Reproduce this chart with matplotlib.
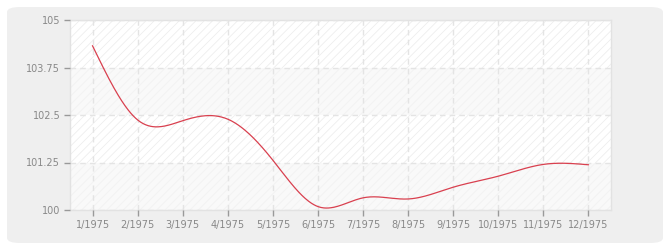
import numpy as np
import matplotlib
matplotlib.use('Agg')
import matplotlib.pyplot as plt
from matplotlib.patches import FancyBboxPatch

months = ['1/1975', '2/1975', '3/1975', '4/1975', '5/1975', '6/1975',
          '7/1975', '8/1975', '9/1975', '10/1975', '11/1975', '12/1975']
values = [104.32, 102.37, 102.35, 102.39, 101.31, 100.09,
          100.32, 100.29, 100.60, 100.89, 101.20, 101.19]
y_ticks = [100, 101.25, 102.5, 103.75, 105]
y_labels = ['100', '101.25', '102.5', '103.75', '105']


def natural_spline(x, y, xs):
    x = np.asarray(x, float)
    y = np.asarray(y, float)
    n = len(x)
    h = np.diff(x)
    A = np.zeros((n, n))
    r = np.zeros(n)
    A[0, 0] = 1
    A[-1, -1] = 1
    for i in range(1, n - 1):
        A[i, i - 1] = h[i - 1]
        A[i, i] = 2 * (h[i - 1] + h[i])
        A[i, i + 1] = h[i]
        r[i] = 6 * ((y[i + 1] - y[i]) / h[i] - (y[i] - y[i - 1]) / h[i - 1])
    M = np.linalg.solve(A, r)
    idx = np.clip(np.searchsorted(x, xs) - 1, 0, n - 2)
    x0, x1 = x[idx], x[idx + 1]
    hh = x1 - x0
    a = (x1 - xs) / hh
    b = (xs - x0) / hh
    return (a * y[idx] + b * y[idx + 1]
            + ((a**3 - a) * M[idx] + (b**3 - b) * M[idx + 1]) * hh**2 / 6)


plt.rcParams['hatch.linewidth'] = 0.6

fig = plt.figure(figsize=(6.7, 2.5), dpi=100)
fig.patch.set_facecolor('white')
bg = FancyBboxPatch((7 / 670, 7 / 250), 656 / 670, 236 / 250,
                    boxstyle='round,pad=0,rounding_size=0.02',
                    transform=fig.transFigure,
                    facecolor='#efefef', edgecolor='none', zorder=-5)
fig.add_artist(bg)

ax = fig.add_axes([70 / 670, 40 / 250, 541 / 670, 190 / 250], zorder=2)
ax.set_facecolor('white')

# alternating hatched bands
for i in range(len(y_ticks) - 1):
    if i % 2 == 1:
        ax.axhspan(y_ticks[i], y_ticks[i + 1], facecolor='white',
                   edgecolor='#eeeeee', hatch='////', linewidth=0, zorder=0)
    else:
        ax.axhspan(y_ticks[i], y_ticks[i + 1], facecolor='#f9f9f9',
                   edgecolor='#f2f2f2', hatch='////', linewidth=0, zorder=0)

x = np.arange(len(months))
xs = np.linspace(0, len(months) - 1, 600)
ax.plot(xs, natural_spline(x, values, xs), color='#d9404f', lw=0.9, zorder=3)

ax.set_xlim(-0.5, len(months) - 0.5)
ax.set_ylim(100, 105)
ax.set_xticks(x)
ax.set_xticklabels(months)
ax.set_yticks(y_ticks)
ax.set_yticklabels(y_labels)

ax.grid(True, color='#e4e4e4', linestyle=(0, (4, 3)), linewidth=1, zorder=1)
ax.set_axisbelow(False)
for s in ax.spines.values():
    s.set_color('#e2e2e2')
    s.set_linewidth(1)
    s.set_zorder(2)

ax.tick_params(axis='both', colors='#999999', labelcolor='#888888',
               labelsize=7, length=4, width=1, pad=3)

fig.savefig('out.png', dpi=100)
